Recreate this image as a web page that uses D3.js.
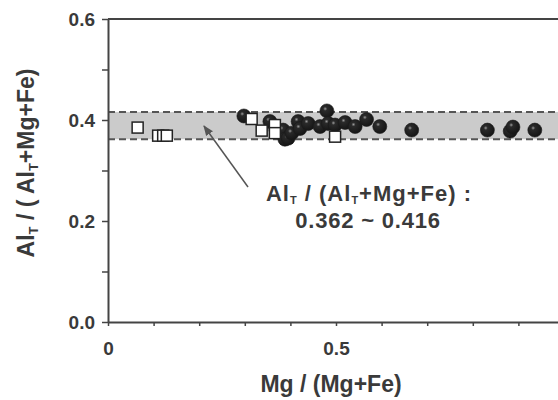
<!DOCTYPE html>
<html>
<head>
<meta charset="utf-8">
<script src="https://cdn.jsdelivr.net/npm/d3@7"></script>
<style>
  html, body { margin: 0; padding: 0; background: #fff; }
  svg { display: block; font-family: "Liberation Sans", Arial, sans-serif; font-weight: bold; }
</style>
</head>
<body>
<div id="chart"></div>
<script>
// ------------------------------------------------------------
// Data
// ------------------------------------------------------------
const circleX = [0.298, 0.355, 0.384, 0.388, 0.395, 0.403, 0.417, 0.421, 0.439, 0.465,
                 0.480, 0.483, 0.498, 0.520, 0.542, 0.567, 0.596, 0.666, 0.832, 0.882, 0.888, 0.936];
const circleY = [0.408, 0.397, 0.380, 0.362, 0.364, 0.374, 0.397, 0.383, 0.393, 0.387,
                 0.418, 0.393, 0.390, 0.395, 0.387, 0.401, 0.387, 0.380, 0.380, 0.378, 0.386, 0.380];
const squareX = [0.065, 0.110, 0.121, 0.129, 0.315, 0.337, 0.366, 0.366, 0.498];
const squareY = [0.385, 0.369, 0.369, 0.369, 0.402, 0.379, 0.390, 0.374, 0.367];

const bandRange = [0.362, 0.416];
const xTicks = [0, 0.1, 0.2, 0.3, 0.4, 0.5, 0.6, 0.7, 0.8, 0.9, 1];
const xTickLabels = { 0: "0", 0.5: "0.5", 1: "1" };
const yTicks = [0, 0.1, 0.2, 0.3, 0.4, 0.5, 0.6];
const yTickLabels = { 0: "0.0", 0.2: "0.2", 0.4: "0.4", 0.6: "0.6" };

// ------------------------------------------------------------
// Setup
// ------------------------------------------------------------
const width = 558, height = 400;
const ink = "#3a3a3a";

const svg = d3.select("#chart")
    .append("svg")
    .attr("width", width)
    .attr("height", height);

const x = d3.scaleLinear().domain([0, 1]).range([108, 564]);
const y = d3.scaleLinear().domain([0, 0.6]).range([322, 19]);

// sphere gradient for the filled markers
const defs = svg.append("defs");
const grad = defs.append("radialGradient")
    .attr("id", "sphere")
    .attr("cx", "38%").attr("cy", "35%").attr("r", "65%");
grad.append("stop").attr("offset", "0%").attr("stop-color", "#9a9a9a");
grad.append("stop").attr("offset", "22%").attr("stop-color", "#2a2a2a");
grad.append("stop").attr("offset", "100%").attr("stop-color", "#151515");

defs.append("marker")
    .attr("id", "arrow")
    .attr("viewBox", "0 0 10 10")
    .attr("refX", 9).attr("refY", 5)
    .attr("markerWidth", 7).attr("markerHeight", 7)
    .attr("orient", "auto")
    .append("path")
    .attr("d", "M0,1 L10,5 L0,9 Z")
    .attr("fill", "#555");

// ------------------------------------------------------------
// Band
// ------------------------------------------------------------
svg.append("rect")
    .attr("x", x(0))
    .attr("y", y(bandRange[1]))
    .attr("width", x(1) - x(0))
    .attr("height", y(bandRange[0]) - y(bandRange[1]))
    .attr("fill", "#cbcbcb");

svg.selectAll(".bandline")
    .data(bandRange)
    .enter()
    .append("line")
    .attr("x1", x(0)).attr("x2", x(1))
    .attr("y1", d => y(d)).attr("y2", d => y(d))
    .attr("stroke", "#555")
    .attr("stroke-width", 2)
    .attr("stroke-dasharray", "7,4");

// ------------------------------------------------------------
// Axes
// ------------------------------------------------------------
const xAxis = svg.append("g")
    .attr("transform", `translate(0,${y(0)})`)
    .call(d3.axisBottom(x).tickValues(xTicks).tickSize(4).tickSizeOuter(0)
        .tickFormat(d => xTickLabels[Math.round(d * 10) / 10] || ""));

const yAxis = svg.append("g")
    .attr("transform", `translate(${x(0)},0)`)
    .call(d3.axisLeft(y).tickValues(yTicks).tickSize(6).tickSizeOuter(0)
        .tickFormat(d => yTickLabels[Math.round(d * 10) / 10] || ""));

[xAxis, yAxis].forEach(g => {
    g.select(".domain").attr("stroke", "#444").attr("stroke-width", 2);
    g.selectAll(".tick line").attr("stroke", "#444").attr("stroke-width", 1.5);
    g.selectAll("text")
        .attr("fill", ink)
        .attr("font-size", "19px")
        .attr("font-weight", "bold")
        .attr("font-family", "Liberation Sans, Arial, sans-serif");
});
xAxis.selectAll("text").attr("y", 33).attr("dy", 0);
yAxis.selectAll("text").attr("x", -13);

// top frame
svg.append("line")
    .attr("x1", x(0)).attr("x2", x(1))
    .attr("y1", y(0.6)).attr("y2", y(0.6))
    .attr("stroke", "#444").attr("stroke-width", 2);

// ------------------------------------------------------------
// Points
// ------------------------------------------------------------
const circles = circleX.map((v, i) => ({ x: v, y: circleY[i] }));
const squares = squareX.map((v, i) => ({ x: v, y: squareY[i] }));

svg.selectAll(".dot")
    .data(circles)
    .enter()
    .append("circle")
    .attr("cx", d => x(d.x))
    .attr("cy", d => y(d.y))
    .attr("r", 7)
    .attr("fill", "url(#sphere)")
    .attr("stroke", "#1a1a1a")
    .attr("stroke-width", 0.6);

const sq = 11;
svg.selectAll(".sq")
    .data(squares)
    .enter()
    .append("rect")
    .attr("x", d => x(d.x) - sq / 2)
    .attr("y", d => y(d.y) - sq / 2)
    .attr("width", sq)
    .attr("height", sq)
    .attr("fill", "#fff")
    .attr("stroke", "#222")
    .attr("stroke-width", 1.5);

// ------------------------------------------------------------
// Annotation
// ------------------------------------------------------------
svg.append("line")
    .attr("x1", 248).attr("y1", 187)
    .attr("x2", 204).attr("y2", 126)
    .attr("stroke", "#555")
    .attr("stroke-width", 1.5)
    .attr("marker-end", "url(#arrow)");

const ann = svg.append("text")
    .attr("x", 369).attr("y", 201)
    .attr("text-anchor", "middle")
    .attr("fill", ink)
    .attr("font-size", "22px")
    .attr("letter-spacing", "1px");
ann.append("tspan").text("Al");
ann.append("tspan").attr("font-size", "11px").attr("dy", 3).text("T");
ann.append("tspan").attr("dy", -3).text(" / (Al");
ann.append("tspan").attr("font-size", "11px").attr("dy", 3).text("T");
ann.append("tspan").attr("dy", -3).text("+Mg+Fe) :");

svg.append("text")
    .attr("x", 368).attr("y", 228)
    .attr("text-anchor", "middle")
    .attr("fill", ink)
    .attr("font-size", "22px")
    .attr("letter-spacing", "0.8px")
    .text("0.362 ~ 0.416");

// axis titles
svg.append("text")
    .attr("x", 331).attr("y", 392)
    .attr("text-anchor", "middle")
    .attr("fill", ink)
    .attr("font-size", "23px")
    .text("Mg / (Mg+Fe)");

const yt = svg.append("text")
    .attr("transform", "translate(34,163) rotate(-90)")
    .attr("text-anchor", "middle")
    .attr("fill", ink)
    .attr("font-size", "23px");
yt.append("tspan").text("Al");
yt.append("tspan").attr("font-size", "13px").attr("dy", 4).text("T");
yt.append("tspan").attr("dy", -4).text(" / ( Al");
yt.append("tspan").attr("font-size", "13px").attr("dy", 4).text("T");
yt.append("tspan").attr("dy", -4).text("+Mg+Fe)");
</script>
</body>
</html>
